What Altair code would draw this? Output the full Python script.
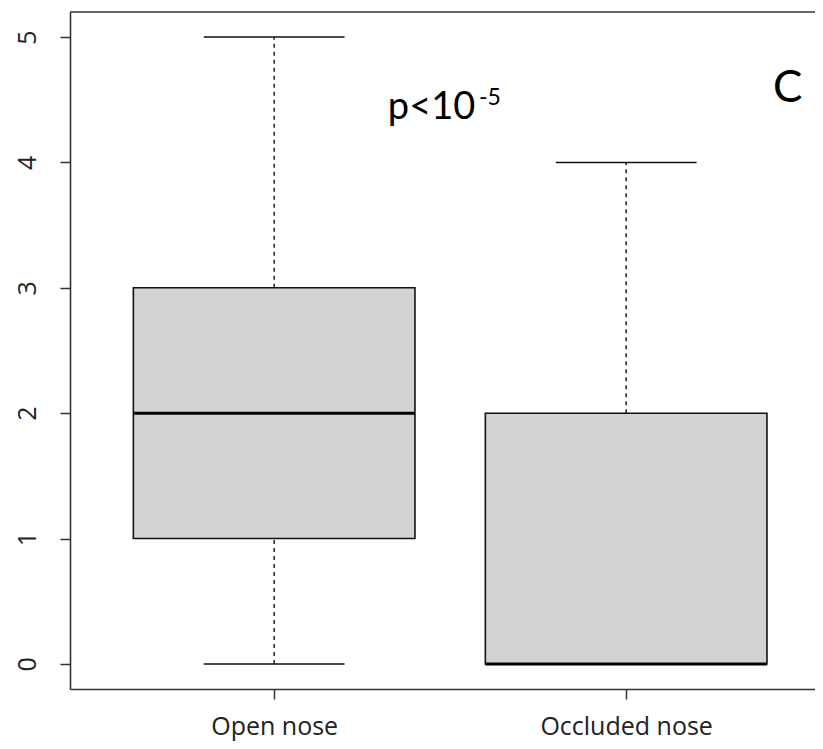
import altair as alt
import pandas as pd

# Data
groups = ["Open nose", "Occluded nose"]
positions = [1, 2]
wmin = [0, 0]
q1 = [1, 0]
median = [2, 0]
q3 = [3, 2]
wmax = [5, 4]
y_ticks = [0, 1, 2, 3, 4, 5]

ann_text = ["p<10", "-5", "C"]
ann_x = [1.323, 1.582, 2.417]
ann_y = [4.347, 4.458, 4.482]
ann_size = [38, 23, 44]

df = pd.DataFrame(dict(group=groups, pos=positions, wmin=wmin, q1=q1,
                       median=median, q3=q3, wmax=wmax))
df["left"] = df["pos"] - 0.4
df["right"] = df["pos"] + 0.4
df["capl"] = df["pos"] - 0.2
df["capr"] = df["pos"] + 0.2

ann = pd.DataFrame(dict(text=ann_text, x=ann_x, y=ann_y, size=ann_size))

XDOM = [0.42, 2.5365]
YDOM = [-0.2, 5.2]
border = pd.DataFrame(dict(x=[XDOM[0]], x2=[XDOM[1]], y=[YDOM[1]]))

xscale = alt.Scale(domain=XDOM, nice=False, zero=False)
yscale = alt.Scale(domain=YDOM, nice=False, zero=False)

label_expr = " : ".join(
    f"datum.value == {p} ? '{g}'" for p, g in zip(positions, groups)
) + " : ''"

xaxis = alt.Axis(values=positions, labelExpr=label_expr, title=None,
                 labelBaseline="alphabetic", labelPadding=35, labelAlign="center")
yaxis = alt.Axis(values=y_ticks, title=None, labelAngle=270, labelAlign="center",
                 labelBaseline="alphabetic", labelPadding=25)


def X(f):
    return alt.X(f, type="quantitative", scale=xscale, axis=xaxis)


def Y(f):
    return alt.Y(f, type="quantitative", scale=yscale, axis=yaxis)


base = alt.Chart(df)

upper = base.mark_rule(color="#111", strokeWidth=1.4, strokeDash=[4, 4]).encode(
    x=X("pos"), y=Y("q3"), y2="wmax")
lower = base.mark_rule(color="#111", strokeWidth=1.4, strokeDash=[4, 4]).encode(
    x=X("pos"), y=Y("wmin"), y2="q1")
cap_hi = base.mark_rule(color="#111", strokeWidth=1.6).encode(
    x=X("capl"), x2="capr", y=Y("wmax"))
cap_lo = base.mark_rule(color="#111", strokeWidth=1.6).encode(
    x=X("capl"), x2="capr", y=Y("wmin"))
box = base.mark_rect(fill="#D3D3D3", stroke="#111", strokeWidth=1.6).encode(
    x=X("left"), x2="right", y=Y("q1"), y2="q3")
med = base.mark_rule(color="#000", strokeWidth=3).encode(
    x=X("left"), x2="right", y=Y("median"))

top = alt.Chart(border).mark_rule(color="#333", strokeWidth=1.6).encode(
    x=X("x"), x2="x2", y=Y("y"))

texts = alt.layer(*[
    alt.Chart(ann[ann["text"] == t]).mark_text(
        align="left", baseline="alphabetic", font="Lato", color="#000", fontSize=s
    ).encode(x=X("x"), y=Y("y"), text="text:N")
    for t, s in zip(ann_text, ann_size)
])

chart = alt.layer(upper, lower, cap_hi, cap_lo, box, med, top, texts).properties(
    width=745, height=677,
    autosize=alt.AutoSizeParams(type="none"),
    padding={"left": 62, "top": 4, "right": 0, "bottom": 52},
).configure_view(stroke=None).configure_axis(
    domainColor="#333", domainWidth=1.6, tickColor="#333", tickWidth=1.5,
    tickSize=10, labelFont="Open Sans", labelFontSize=25, labelColor="#222",
    grid=False, labelOverlap=False, labelFlush=False, labelBound=False,
)

chart.save("out.html", embed_options={"renderer": "svg", "actions": False})
